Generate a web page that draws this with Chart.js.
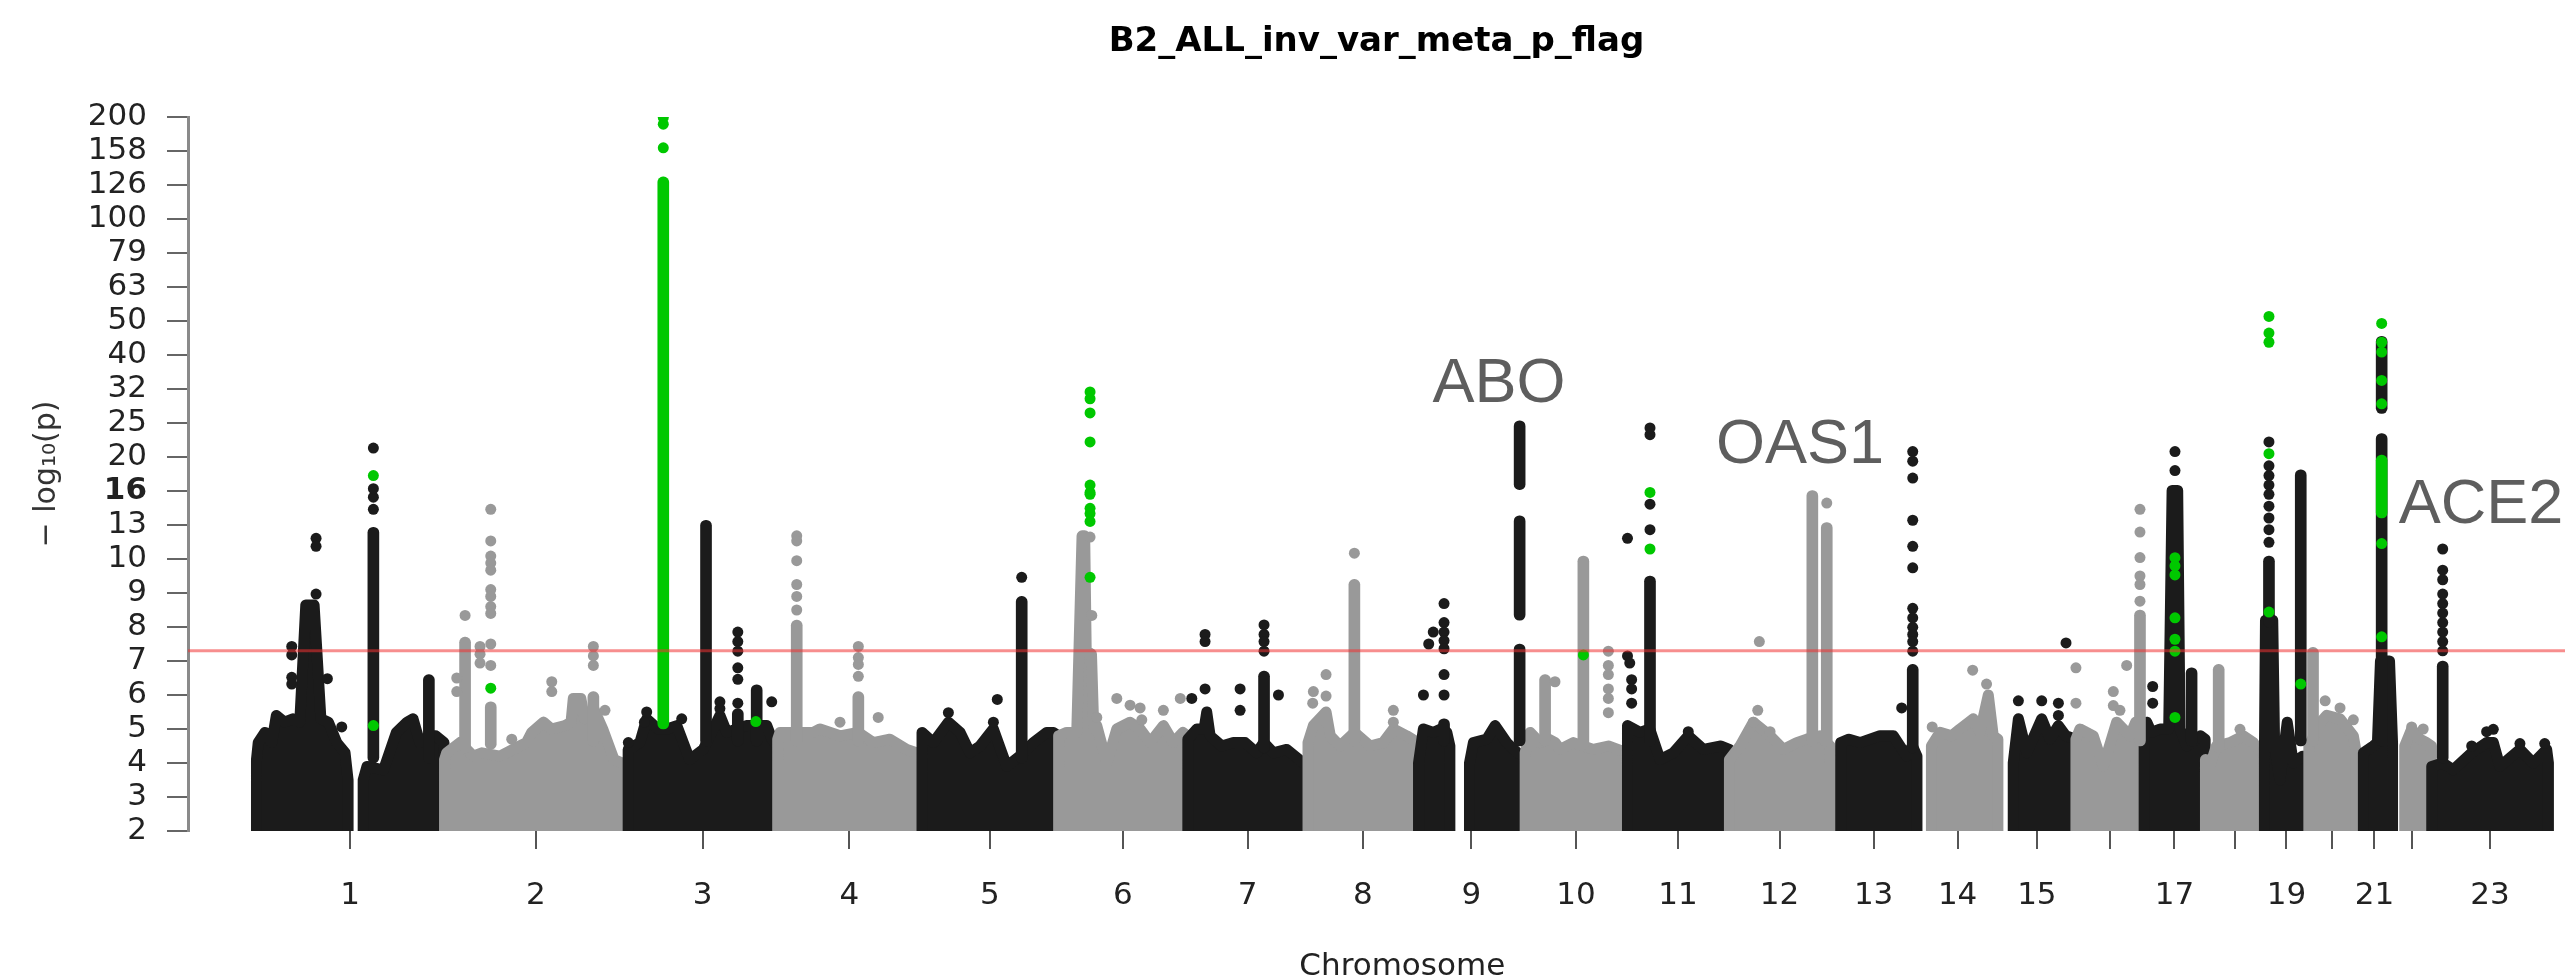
<!DOCTYPE html>
<html lang="en">
<head>
<meta charset="UTF-8">
<title>B2_ALL_inv_var_meta_p_flag</title>
<script src="https://cdn.jsdelivr.net/npm/chart.js"></script>
<style>
  * { margin: 0; padding: 0; box-sizing: border-box; }
  body { background: #fff; width: 2572px; height: 977px; overflow: hidden; }
  #wrap { width: 2572px; height: 977px; }
</style>
</head>
<body>
<div id="wrap"><canvas id="manhattan" width="2572" height="977"></canvas></div>
<script>
// chromosome lengths (Mb, hg19) and axis labels
const chromosomes = ['1','2','3','4','5','6','7','8','9','10','11','12','13','14','15','16','17','18','19','20','21','22','23'];
const chromLengths = [249.25, 243.20, 198.02, 191.15, 180.92, 171.12, 159.14, 146.36, 141.21, 135.53, 135.01, 133.85,
                      115.17, 107.35, 102.53, 90.35, 81.20, 78.08, 59.13, 63.03, 48.13, 51.30, 155.27];
const tickLabels = ['1','2','3','4','5','6','7','8','9','10','11','12','13','14','15','','17','','19','','21','','23'];
const yTickLabels = [2,3,4,5,6,7,8,9,10,13,16,20,25,32,40,50,63,79,100,126,158,200];
const significance = 7.3;

// upper edge of the dense cloud of SNPs: [chromosome, [[pos Mb, -log10 p], ...]]
const bandSegments = [
  [1, [[0.7,4.1],[3,4.6],[12,4.9],[21,4.6],[27,5.4],[38,5.2],[49,5.3],[58,5.2],[66,8.65],[77,8.65],[86,5.3],[96,5.2],[107,4.6],[118,4.3],[122,3.5]]],
  [1, [[142,3.5],[147,3.9],[169,3.8],[186,4.9],[200,5.2],[208,5.3],[217,4.6],[229,4.8],[238,4.8],[249,4.6]]],
  [2, [[0.5,4.1],[3.4,4.3],[21,4.6],[38.7,4.2],[50,4.3],[74,4.2],[100,4.5],[109,4.6],[116,4.9],[131.6,5.2],[142,5.0],[160,5.1],[168,5.2],[171,5.9],[181,5.9],[186,5.3],[198,5.6],[210,5.0],[225,4.1],[236,4.0],[243,4.0]]],
  [3, [[0.5,4.4],[16,4.6],[25,5.3],[40,5.0],[52,5.0],[65,5.1],[82,4.1],[100,4.4],[122,5.4],[131,4.9],[157,5.1],[184,5.1],[191,4.7],[198,4.5]]],
  [4, [[0.5,4.7],[3.6,4.9],[20,4.9],[47.7,4.9],[56.5,5.0],[83,4.8],[107,4.9],[127,4.6],[149,4.7],[171.4,4.4],[184,4.3],[191,4.2]]],
  [5, [[0.5,4.9],[15.5,4.6],[35.4,5.2],[50.9,4.9],[64.1,4.3],[77.3,4.5],[95,5.0],[112.7,3.9],[130,4.2],[147.9,4.6],[165.7,4.9],[174.4,4.9],[180.9,4.8]]],
  [6, [[0.5,4.8],[11.3,4.9],[24.5,4.9],[31.5,11.7],[35,11.7],[37,7.3],[44,7.2],[47,5.0],[51,5.1],[64.3,4.0],[77.5,5.0],[95.1,5.2],[108.4,5.0],[121.6,4.6],[139.2,5.1],[152.5,4.6],[165,4.9],[171,4.8]]],
  [7, [[0.5,4.7],[12.3,5.0],[22,5.0],[25.5,5.5],[30,4.8],[45.4,4.5],[60.8,4.6],[76.3,4.6],[91.8,4.3],[101,4.6],[113.8,4.3],[131.5,4.4],[153.5,4.0],[159,3.9]]],
  [8, [[0.5,4.6],[7.6,5.1],[24.4,5.5],[30,4.8],[42.9,4.5],[62,4.9],[82.6,4.5],[100,4.6],[113.5,5.0],[131.2,4.8],[138.7,4.7],[146,4.6]]],
  [9, [[0.5,4.0],[6.9,5.0],[20,4.9],[30,5.0],[38,4.9],[42,4.5]]],
  [9, [[68,4.0],[73.2,4.6],[90.9,4.7],[101.9,5.1],[117.4,4.6],[131.5,4.3],[141,4.2]]],
  [10, [[0.5,4.3],[7,4.9],[20,4.6],[32,4.7],[40.1,4.6],[46.7,4.4],[64.4,4.6],[90.8,4.4],[110.7,4.5],[123.2,4.4],[135.5,4.3]]],
  [11, [[0.5,5.1],[17.1,4.9],[30,5.0],[43.6,4.1],[61.2,4.3],[81,4.8],[101,4.4],[124.3,4.5],[135,4.4]]],
  [12, [[0.5,4.1],[14.6,4.5],[32.2,5.2],[54.3,4.8],[71.9,4.4],[89.6,4.6],[102.9,4.7],[120.5,4.8],[133.8,4.5]]],
  [13, [[14,4.6],[25,4.7],[39.6,4.6],[66,4.8],[83.7,4.8],[101.4,4.2],[109,4.5],[115,4.2]]],
  [14, [[19,4.5],[30.3,4.9],[45.8,4.8],[56.8,5.0],[74.4,5.3],[83.3,4.9],[94.3,6.0],[100.9,4.8],[107,4.7]]],
  [15, [[20,4.0],[26.8,5.3],[37.9,4.3],[57.7,5.3],[68.7,4.7],[79.8,5.1],[89.5,4.8],[102.5,4.7]]],
  [16, [[0.5,4.7],[5.8,5.0],[23.4,4.8],[36.7,3.9],[54.4,5.2],[72,4.8],[79.6,5.2],[85,5.0],[90.3,4.8]]],
  [17, [[0.5,4.8],[4,5.2],[10,4.9],[21.5,5.0],[33,5.0],[37.5,15.9],[44.9,15.9],[48,5.0],[56.8,4.5],[75,4.8],[81.2,4.7]]],
  [18, [[0.5,4.1],[6.5,3.9],[15,4.5],[33,4.6],[50.6,4.8],[63.8,4.6],[70.4,4.4],[78,4.3]]],
  [19, [[0.5,4.4],[1.9,8.2],[11.5,8.2],[14,4.5],[21,3.5],[30.7,5.2],[38.7,4.0],[51,4.2],[59.1,4.2]]],
  [20, [[0.2,4.5],[15.9,5.2],[23.8,5.4],[41.5,5.3],[59.1,4.8],[63,4.3]]],
  [21, [[9.4,4.3],[22.5,4.5],[28,4.6],[32,7.0],[44,7.0],[48,4.6]]],
  [22, [[16,4.5],[25.2,5.0],[36.2,4.7],[45,4.6],[51.3,4.5]]],
  [23, [[0.5,3.9],[15,4.0],[29,3.8],[53.4,4.3],[73.2,4.6],[82,4.6],[90.8,3.9],[117.3,4.4],[134.9,4.0],[152.7,4.4],[155,4.0]]]
];

// dense runs of SNPs inside a peak: [chromosome, pos Mb, from, to]
const blackColumns = [
  [1,155.5,4,12.4],[1,229,4,6.6],[3,103.6,4.5,13.0],[3,145.7,4.5,5.6],[3,170.7,4.5,6.3],
  [5,132.5,4.0,8.9],[7,101.4,4.3,6.7],[9,34.3,4.5,5.3],[9,134.4,4.5,7.5],[9,134.4,8.2,13.4],
  [9,134.4,16.0,25.5],[11,30.3,4.5,9.5],[13,109.4,4.3,6.9],[17,63.3,4.5,6.8],[19,6.5,8.0,10.2],
  [19,48.6,4.5,18.3],[21,33.6,4.5,23.4],[21,33.6,26.8,45.2],[23,15,4.0,7.0]
];
const grayColumns = [
  [2,27.7,4.3,7.7],[2,61.7,4.4,5.8],[2,197.6,4.5,6.1],[4,25.7,4.5,8.2],[4,107.3,4.5,6.1],
  [8,61.9,4.5,9.4],[10,26.9,4.5,6.6],[10,77.6,4.4,10.2],[12,110.3,4.5,15.9],[12,129.4,4.5,12.8],
  [16,85.3,4.5,8.5],[18,18,4.3,6.9],[20,5.7,4.5,7.4]
];
const greenColumns = [
  [3,47,5.0,133],[21,33.6,13.2,20.2]
];

// single SNPs: [chromosome, pos Mb, -log10 p]
const blackDots = [
  [1,155.5,14.0],[1,155.5,15.2],[1,155.5,16.1],[1,155.5,21.2],
  [1,47.4,7.43],[1,47.4,7.18],[1,47.4,6.52],[1,47.4,6.32],
  [1,79.6,11.5],[1,79.6,10.9],[1,79.6,8.97],[1,94.6,6.48],[1,113.6,5.06],
  [3,0.7,4.6],[3,25,5.5],[3,22,5.2],[3,71.4,5.3],[3,122,5.6],[3,122,5.8],[3,190.6,5.8],
  [3,145.7,7.85],[3,145.7,7.57],[3,145.7,7.29],[3,145.7,6.8],[3,145.7,6.46],[3,145.7,5.76],
  [5,132.5,9.46],[5,95,5.2],[5,100.2,5.87],[5,35.4,5.48],
  [7,101.4,8.06],[7,101.4,7.78],[7,101.4,7.57],[7,101.4,7.29],
  [7,23.3,7.78],[7,23.3,7.57],[7,23.3,6.18],[7,69.7,6.18],[7,69.7,5.55],[7,5.7,5.9],[7,120.5,6.0],
  [9,34.3,8.69],[9,34.3,8.13],[9,34.3,7.85],[9,34.3,7.6],[9,34.3,7.36],[9,34.3,6.6],[9,34.3,6.0],
  [9,20,7.85],[9,14,7.5],[9,7,6.0],
  [11,30.3,12.2],[11,30.3,14.5],[11,30.3,23.2],[11,30.3,24.3],
  [11,0.5,11.5],[11,0.5,7.15],[11,3.5,6.94],[11,6,6.45],[11,6,6.18],[11,6,5.76],[11,81,4.92],
  [13,109.4,20.7],[13,109.4,19.4],[13,109.4,17.3],[13,109.4,13.0],[13,109.4,10.9],[13,109.4,9.74],
  [13,109.4,8.55],[13,109.4,8.27],[13,109.4,7.99],[13,109.4,7.78],[13,109.4,7.57],[13,109.4,7.29],[13,94.8,5.62],
  [15,26.8,5.83],[15,57.7,5.83],[15,79.8,5.76],[15,79.8,5.4],[15,89.9,7.53],
  [17,41.3,18.2],[17,41.3,20.7],[17,11.8,6.25],[17,11.8,5.76],
  [19,6.5,11.2],[19,6.5,12.2],[19,6.5,13.2],[19,6.5,14.3],[19,6.5,15.5],[19,6.5,16.5],[19,6.5,17.6],[19,6.5,18.8],[19,6.5,22.1],
  [23,15,10.7],[23,15,9.67],[23,15,9.39],[23,15,8.97],[23,15,8.69],[23,15,8.41],[23,15,8.13],[23,15,7.85],[23,15,7.57],[23,15,7.3],
  [23,53.4,4.5],[23,73.2,4.92],[23,82,4.99],[23,117.3,4.57],[23,150.1,4.57]
];
const grayDots = [
  [2,61.7,14.0],[2,61.7,11.3],[2,61.7,10.2],[2,61.7,9.88],[2,61.7,9.67],[2,61.7,9.1],[2,61.7,8.9],[2,61.7,8.6],[2,61.7,8.4],[2,61.7,7.5],[2,61.7,6.87],
  [2,27.7,8.34],[2,16.7,6.5],[2,16.7,6.1],[2,47.5,7.43],[2,47.5,7.2],[2,47.5,6.94],
  [2,142.5,6.39],[2,142.5,6.1],[2,89.5,4.7],[2,213,5.55],[2,197.6,7.43],[2,197.6,7.15],[2,197.6,6.87],
  [4,25.7,11.7],[4,25.7,11.3],[4,25.7,9.95],[4,25.7,9.25],[4,25.7,8.9],[4,25.7,8.5],
  [4,107.3,7.43],[4,107.3,7.1],[4,107.3,6.9],[4,107.3,6.55],[4,83,5.2],[4,133.6,5.34],
  [6,42.1,11.6],[6,44.4,8.34],[6,51,5.34],[6,77.5,5.9],[6,95.1,5.7],[6,108.4,5.62],[6,110.6,5.27],[6,139.2,5.55],[6,161.6,5.9],
  [8,61.9,10.4],[8,24.4,6.6],[8,24.4,5.97],[8,6.7,5.76],[8,7.6,6.1],[8,113.5,5.55],[8,113.5,5.2],
  [10,40,6.39],[10,110.7,7.29],[10,110.7,6.87],[10,110.7,6.6],[10,110.7,6.18],[10,110.7,5.9],[10,110.7,5.48],
  [12,129.4,14.6],[12,40.1,7.57],[12,32.2,5.2],[12,38,5.55],[12,54.3,4.92],
  [14,73.6,6.73],[14,20,5.06],[14,92,6.32],
  [16,85.3,14.0],[16,85.3,12.0],[16,85.3,10.1],[16,85.3,9.5],[16,85.3,9.25],[16,85.3,8.76],
  [16,0.5,6.8],[16,0.5,5.76],[16,50,6.1],[16,50,5.69],[16,58.8,5.55],[16,67.7,6.87],
  [18,46.2,4.99],[20,21.8,5.83],[20,41.5,5.62],[20,59.1,5.27],[22,25.2,5.06],[22,40.5,5.0]
];
const greenDots = [
  [1,155.5,17.6],[1,155.5,5.1],[2,61.7,6.2],
  [3,47,199],[3,47,190],[3,47,162],[3,47,5.2],[3,169.6,5.22],
  [6,42.1,31],[6,42.1,29.6],[6,42.1,26.9],[6,42.1,22.1],[6,42.1,16.5],[6,42.1,15.7],[6,42.1,15.5],
  [6,42.1,14.1],[6,42.1,13.6],[6,42.1,12.9],[6,42.1,9.46],
  [10,77.6,7.18],[11,30.3,10.7],[11,30.3,15.7],
  [17,41.3,10.09],[17,41.3,9.8],[17,41.3,9.53],[17,41.3,8.27],[17,41.3,7.64],[17,41.3,7.29],[17,41.3,5.34],
  [19,6.5,20.4],[19,6.5,8.44],[19,6.5,51.7],[19,6.5,46.2],[19,6.5,43.4],[19,48.6,6.32],
  [21,33.6,49.3],[21,33.6,43.4],[21,33.6,40.6],[21,33.6,33.5],[21,33.6,28.6],[21,33.6,11.1],[21,33.6,7.71]
];

// gene annotations: name, chromosome, centre pos (Mb), baseline level
const geneNames = ['ABO', 'OAS1', 'ACE2'];
const geneChr = [9, 12, 23];
const genePos = [107, 94, 65.7];
const geneLevel = [29.0, 19.1, 12.8];

const BLACK = '#1b1b1b';
const GRAY = '#999999';
const GREEN = '#00c800';
const DOT = 11;

// cumulative genome coordinates
const chromStart = [];
let total = 0;
chromLengths.forEach(len => { chromStart.push(total); total += len; });
const genomeLength = total;
const gx = (chr, pos) => chromStart[chr - 1] + pos;
const chromMid = chromLengths.map((len, i) => chromStart[i] + len / 2);

// y axis is linear up to 10, then log10-compressed (one unit per 0.1 decade)
const ty = v => v <= 10 ? v : 10 + 10 * Math.log10(v / 10);

const datasets = [];

bandSegments.forEach(([chr, pts]) => {
    const colour = chr % 2 === 1 ? BLACK : GRAY;
    const data = [{x: gx(chr, pts[0][0]), y: 2}];
    pts.forEach(([pos, v]) => data.push({x: gx(chr, pos), y: ty(v)}));
    data.push({x: gx(chr, pts[pts.length - 1][0]), y: 2});
    datasets.push({
        type: 'line', data: data,
        borderColor: colour, backgroundColor: colour,
        borderWidth: DOT, borderJoinStyle: 'round', borderCapStyle: 'round',
        fill: 'start', pointRadius: 0, tension: 0,
        clip: {left: 10, top: 10, right: 10, bottom: 0},
        order: 1000 - chr
    });
});

function columnSet(list, colour, order) {
    return {
        type: 'bar',
        data: list.map(([chr, pos, lo, hi]) => ({x: gx(chr, pos), y: [ty(lo), ty(hi)]})),
        backgroundColor: colour, borderWidth: 0,
        barThickness: DOT, borderRadius: DOT / 2, borderSkipped: false,
        grouped: false, order: order
    };
}
function dotSet(list, colour, order) {
    return {
        type: 'scatter',
        data: list.map(([chr, pos, v]) => ({x: gx(chr, pos), y: ty(v)})),
        pointRadius: DOT / 2, pointBackgroundColor: colour, pointBorderWidth: 0,
        showLine: false, order: order
    };
}

datasets.push(columnSet(grayColumns, GRAY, 60));
datasets.push(columnSet(blackColumns, BLACK, 50));
datasets.push(dotSet(grayDots, GRAY, 45));
datasets.push(dotSet(blackDots, BLACK, 40));
datasets.push(columnSet(greenColumns, GREEN, 20));
datasets.push(dotSet(greenDots, GREEN, 10));

const X_MIN = -90, X_MAX = 3058;
datasets.push({
    type: 'line',
    data: [{x: X_MIN, y: significance}, {x: X_MAX, y: significance}],
    borderColor: 'rgba(240, 50, 50, 0.55)', borderWidth: 3,
    pointRadius: 0, fill: false, order: 0
});

const annotate = {
    id: 'annotate',
    afterDatasetsDraw(chart) {
        const {ctx, scales: {x, y}} = chart;
        ctx.save();
        ctx.font = '63px "Liberation Sans"';
        ctx.fillStyle = '#5e5e5e';
        ctx.textAlign = 'center';
        ctx.textBaseline = 'alphabetic';
        geneNames.forEach((name, i) => {
            ctx.fillText(name, x.getPixelForValue(gx(geneChr[i], genePos[i])), y.getPixelForValue(ty(geneLevel[i])));
        });
        // x title is centred on the genome, as in the original plot
        ctx.font = '31px "DejaVu Sans"';
        ctx.fillStyle = '#222';
        ctx.fillText('Chromosome', x.getPixelForValue(genomeLength / 2), chart.height - 2);
        ctx.restore();
    }
};

Chart.defaults.font.family = "'DejaVu Sans', sans-serif";

new Chart(document.getElementById('manhattan'), {
    type: 'scatter',
    data: {datasets: datasets},
    options: {
        responsive: false,
        animation: false,
        devicePixelRatio: 1,
        layout: {padding: {top: 0, right: 7, bottom: 0, left: 0}},
        plugins: {
            legend: {display: false},
            tooltip: {enabled: false},
            title: {
                display: true,
                text: 'B2_ALL_inv_var_meta_p_flag',
                fullSize: false,
                color: '#000',
                font: {size: 34, weight: 'bold', lineHeight: 1.2},
                padding: {top: 22, bottom: 54.2}
            }
        },
        scales: {
            x: {
                type: 'linear', min: X_MIN, max: X_MAX, offset: false,
                border: {display: false},
                grid: {offset: false, drawOnChartArea: false, drawTicks: true, tickLength: 18, color: '#555', lineWidth: 2},
                ticks: {
                    autoSkip: false, maxRotation: 0, padding: 28,
                    color: '#222', font: {size: 31},
                    callback: (v, i) => tickLabels[i]
                },
                afterBuildTicks: scale => { scale.ticks = chromMid.map(v => ({value: v})); },
                afterFit: scale => { scale.height = 146; }
            },
            y: {
                type: 'linear', min: 2, max: 23,
                border: {display: true, color: '#8a8a8a', width: 3},
                grid: {drawOnChartArea: false, drawTicks: true, tickLength: 21, color: '#666', lineWidth: 2},
                ticks: {
                    stepSize: 1, autoSkip: false, padding: 20, color: '#222',
                    font: ctx => ({size: 31, weight: ctx.tick && ctx.tick.value === 12 ? 'bold' : 'normal'}),
                    callback: v => yTickLabels[Math.round(v) - 2]
                },
                title: {
                    display: true, text: '\u2212 log\u2081\u2080(p)', color: '#333',
                    font: {size: 30, lineHeight: 1.2}, padding: {top: 29, bottom: 0}
                },
                afterFit: scale => { scale.width = 188; }
            }
        }
    },
    plugins: [annotate]
});
</script>
</body>
</html>
